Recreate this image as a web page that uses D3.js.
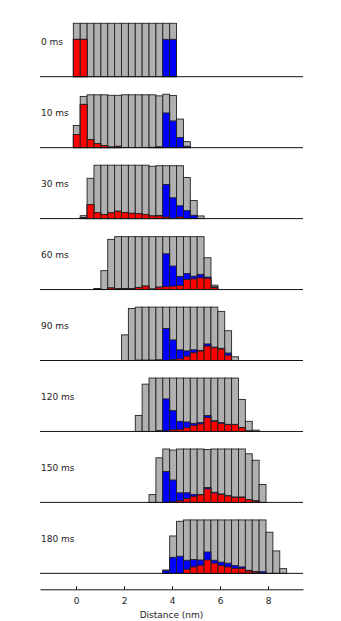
<!DOCTYPE html>
<html>
<head>
<meta charset="utf-8">
<script src="https://cdn.jsdelivr.net/npm/d3@7"></script>
<style>
  body { margin: 0; background: #fff; }
  text { font-family: "DejaVu Sans", sans-serif; fill: #222; }
</style>
</head>
<body>
<div id="chart"></div>
<script>
// time points (ms) and the first bin index of each histogram
var times = [0, 10, 30, 60, 90, 120, 150, 180];
var firstBin = [0, 0, 1, 3, 7, 9, 11, 13];

// bin grid (nm)
var binOrigin = -0.111;
var binWidth = 0.2867;

// total counts (gray), normalised to a full bin = 1
var totals = [
  [1,1,1,1,1,1,1,1,1,1,1,1,1,1,1],
  [0.415,0.96,0.99,0.99,0.99,0.98,0.98,0.99,0.99,0.99,0.99,0.99,0.97,1.0,0.975,0.535,0.113],
  [0.055,0.755,1,1,1,1,1,1,1,1,0.98,0.99,0.99,0.99,0.99,0.77,0.34,0.05],
  [0.02,0.354,0.94,0.99,0.99,0.99,0.99,0.99,0.99,0.99,0.99,0.99,0.99,0.99,0.99,0.99,0.595,0.082],
  [0.48,0.975,1,1,1,1,1,1,1,1,1,1,1,1,0.92,0.557,0.07],
  [0.30,0.886,1,1,1,1,1,1,1,1,1,1,1,1,1,0.60,0.19,0.025],
  [0.146,0.835,1,0.98,1,1,1,1,0.99,1,1,1,1,1,0.91,0.79,0.335],
  [0.063,0.70,0.975,1,1,1,1,1,1,1,1,1,1,1,1,0.77,0.42,0.088]
];

// red population
var reds = [
  [0.7,0.7,0,0,0,0,0,0,0,0,0,0,0,0,0],
  [0.245,0.81,0.15,0.075,0.04,0.012,0.025,0,0,0,0,0.005,0.01,0,0,0,0],
  [0.02,0.264,0.113,0.075,0.107,0.138,0.113,0.10,0.094,0.075,0.05,0.05,0.03,0.005,0.03,0,0,0],
  [0.01,0,0.03,0.02,0.02,0.02,0.04,0.065,0.01,0.045,0.057,0.063,0.076,0.19,0.20,0.22,0.21,0.04],
  [0,0,0.005,0.005,0.005,0.01,0,0.02,0.03,0.08,0.145,0.177,0.27,0.24,0.215,0.10,0],
  [0,0,0,0.005,0.01,0.03,0.04,0.07,0.114,0.14,0.26,0.19,0.152,0.127,0.127,0.07,0.01,0],
  [0,0,0,0.01,0.03,0.07,0.114,0.14,0.253,0.177,0.15,0.12,0.095,0.095,0.05,0.025,0],
  [0,0,0,0.075,0.12,0.15,0.25,0.19,0.145,0.12,0.094,0.094,0.044,0.025,0,0,0,0]
];

// blue population (stacked on top of red)
var blues = [
  [0,0,0,0,0,0,0,0,0,0,0,0,0,0.7,0.7],
  [0,0,0,0,0,0,0,0,0,0,0,0,0.005,0.65,0.50,0.19,0.025],
  [0,0,0,0,0,0,0,0,0,0,0,0.01,0.61,0.385,0.21,0.15,0.063,0],
  [0,0,0,0,0,0,0,0,0,0,0.613,0.377,0.171,0.11,0.05,0.065,0.024,0.01],
  [0,0,0,0,0,0,0.60,0.366,0.17,0.10,0.055,0.013,0.04,0.01,0.013,0.04,0],
  [0,0,0,0.01,0.60,0.36,0.15,0.107,0.038,0.025,0.04,0.01,0.013,0.006,0.006,0.006,0,0],
  [0,0,0.58,0.41,0.15,0.11,0.036,0.01,0.027,0.013,0.008,0.006,0.006,0.006,0.005,0.005,0],
  [0.05,0.30,0.32,0.17,0.14,0.10,0.15,0.055,0.065,0.07,0.05,0.026,0.013,0.01,0.03,0,0,0]
];

var xTicks = [0, 2, 4, 6, 8];

var width = 341,
    height = 621,
    left = 40,
    right = 303,
    firstBase = 76.7,
    panelStep = 70.95,
    panelH = 53.4;

var svg = d3.select("#chart")
  .append("svg")
    .attr("width", width)
    .attr("height", height);

var x = d3.scaleLinear()
  .domain([-1.5, 9.458])
  .range([left, right]);

var y = d3.scaleLinear()
  .domain([0, 1])
  .range([0, panelH]);

times.forEach(function(t, k) {
  var base = firstBase + k * panelStep;
  var g = svg.append("g").attr("transform", "translate(0," + base + ")");

  var bins = totals[k].map(function(tot, j) {
    var i = firstBin[k] + j;
    return {
      x0: binOrigin + i * binWidth,
      x1: binOrigin + (i + 1) * binWidth,
      total: tot,
      red: reds[k][j],
      blue: blues[k][j]
    };
  });

  // gray = all, blue drawn as red+blue, red in front
  var layers = [
    { fill: "#b0b0b0", h: function(d) { return d.total; } },
    { fill: "#0000ff", h: function(d) { return d.red + d.blue; } },
    { fill: "#ff0000", h: function(d) { return d.red; } }
  ];

  layers.forEach(function(L) {
    g.selectAll(null)
      .data(bins.filter(function(d) { return L.h(d) > 0; }))
      .enter()
      .append("rect")
        .attr("x", function(d) { return x(d.x0); })
        .attr("width", function(d) { return x(d.x1) - x(d.x0); })
        .attr("y", function(d) { return -y(L.h(d)); })
        .attr("height", function(d) { return y(L.h(d)); })
        .attr("fill", L.fill)
        .attr("stroke", "#222")
        .attr("stroke-width", 0.9);
  });

  // bottom spine of the panel
  g.append("line")
    .attr("x1", left).attr("x2", right)
    .attr("y1", 0).attr("y2", 0)
    .attr("stroke", "#111")
    .attr("stroke-width", 1);

  g.append("text")
    .attr("x", 41)
    .attr("y", -31.5)
    .style("font-size", "9px")
    .text(t + " ms");
});

// shared distance axis
var axis = d3.axisBottom(x)
  .tickValues(xTicks)
  .tickSizeInner(-3)
  .tickSizeOuter(0)
  .tickPadding(8);

var ax = svg.append("g")
  .attr("transform", "translate(0,589.3)")
  .call(axis);

ax.select(".domain").attr("stroke", "#111");
ax.selectAll(".tick line").attr("stroke", "#111");
ax.selectAll(".tick text")
  .style("font-family", "DejaVu Sans, sans-serif")
  .style("font-size", "9px")
  .attr("fill", "#222");

svg.append("text")
  .attr("x", (left + right) / 2)
  .attr("y", 617.5)
  .attr("text-anchor", "middle")
  .style("font-size", "9px")
  .text("Distance (nm)");
</script>
</body>
</html>
